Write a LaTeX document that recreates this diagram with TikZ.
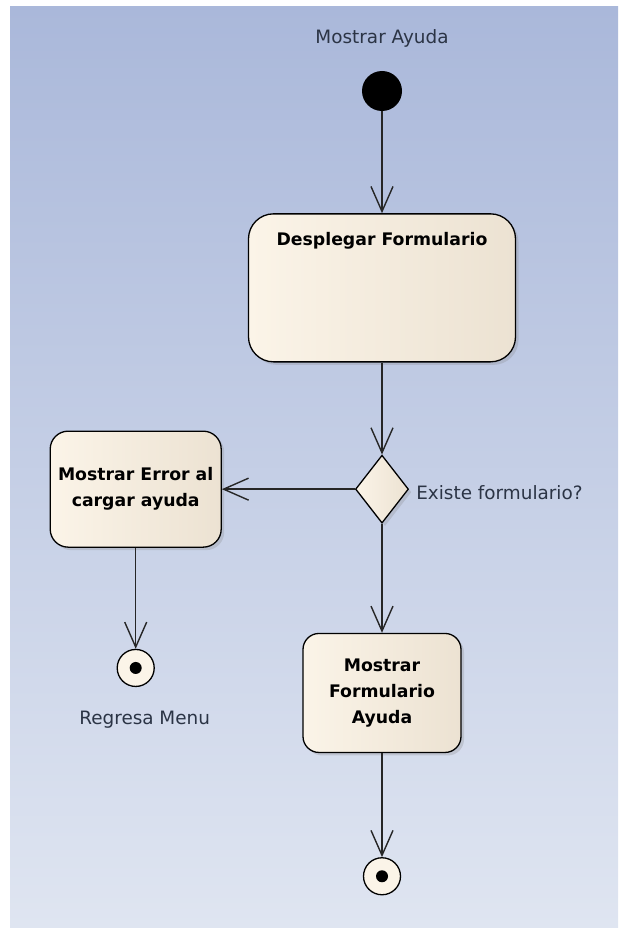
\documentclass[tikz,border=0pt]{standalone}
\usepackage{fontspec}
\setmainfont{DejaVu Sans}
\usetikzlibrary{positioning}
\usetikzlibrary{shapes.geometric}
\usetikzlibrary{shadows}
\usetikzlibrary{arrows.meta}
\definecolor{bgTop}{HTML}{AAB8DA}
\definecolor{bgBot}{HTML}{DFE5F1}
\definecolor{actL}{HTML}{FBF4E8}
\definecolor{actR}{HTML}{ECE2D2}
\definecolor{lblText}{HTML}{2B3445}
\newcommand{\umlfont}{\fontsize{17.3}{26}\selectfont}
\newcommand{\capfont}{\fontsize{18.4}{22}\selectfont}
\tikzstyle{action} = [rectangle, rounded corners=18pt, draw=black, line width=1.3pt, left color=actL, right color=actR, align=center, font=\umlfont\bfseries, drop shadow={shadow xshift=3pt, shadow yshift=-3pt, opacity=0.25}]
\tikzstyle{decision} = [diamond, draw=black, line width=1.3pt, left color=actL, right color=actR, minimum width=53pt, minimum height=68pt, inner sep=0pt, drop shadow={shadow xshift=3pt, shadow yshift=-3pt, opacity=0.25}]
\tikzstyle{initial} = [circle, fill=black, minimum size=40pt, inner sep=0pt]
\tikzstyle{final} = [circle, draw=black, line width=1.3pt, fill=actL, minimum size=37pt, inner sep=0pt, path picture={\fill[black] (path picture bounding box.center) circle (6pt);}]
\tikzstyle{flow} = [draw=black!85, line width=1.4pt, -{Straight Barb[length=25pt,width=22pt]}]
\tikzstyle{caption} = [font=\capfont, text=lblText, inner sep=0pt]

\begin{document}
\begin{tikzpicture}[x=1pt, y=1pt]
\useasboundingbox (0,0) rectangle (618,-928);
\shade[top color=bgTop, bottom color=bgBot] (10,-7) rectangle (618,-928);

% Define nodes
\node[initial]                                   (start)    at (382,-91) {};
\node[caption, above = 23pt of start]            (startlbl) {Mostrar Ayuda};
\node[action, rounded corners=25pt, minimum width=267pt, minimum height=148pt, below = 102pt of start,
      label={[anchor=north, yshift=-16pt, font=\umlfont\bfseries]north:Desplegar Formulario}] (form) {};

\node[decision, below = 92pt of form]            (dec)      {};
\node[caption, right = 7pt of dec, yshift=-3pt]  (declbl)   {Existe formulario?};
\node[action, minimum width=171pt, minimum height=116pt, left = 133pt of dec] (err) {Mostrar Error al\\cargar ayuda};
\node[action, rounded corners=16pt, minimum width=158pt, minimum height=119pt, below = 109pt of dec] (show) {Mostrar\\Formulario\\Ayuda};

\node[final, below = 101pt of err]               (endmenu)  {};
\node[caption, below = 24pt of endmenu, xshift=9pt] (endlbl) {Regresa Menu};
\node[final, below = 104pt of show]              (endshow)  {};

% Edges
\draw[flow] (start) -- (form);
\draw[flow] (form)  -- (dec);
\draw[flow] (dec)   -- (err);
\draw[flow] (dec)   -- (show);
\draw[flow] (err)   -- (endmenu);
\draw[flow] (show)  -- (endshow);
\end{tikzpicture}
\end{document}
